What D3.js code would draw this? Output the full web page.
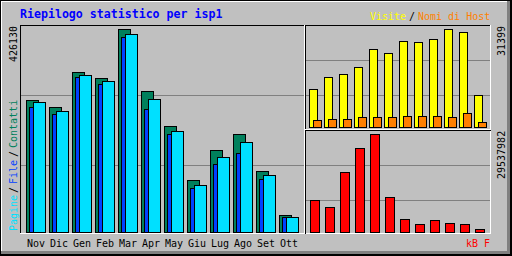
<!DOCTYPE html>
<html>
<head>
<meta charset="utf-8">
<script src="https://cdn.jsdelivr.net/npm/d3@7"></script>
<style>
  html, body { margin: 0; padding: 0; background: #C0C0C0; }
  svg { display: block; }
  text { font-family: "DejaVu Sans Mono", monospace; font-size: 10px; }
</style>
</head>
<body>
<svg id="chart" width="512" height="256"></svg>
<script>
const months = ['Nov', 'Dic', 'Gen', 'Feb', 'Mar', 'Apr', 'May', 'Giu', 'Lug', 'Ago', 'Set', 'Ott'];
const hits   = [277090, 261760, 335870, 323270, 426130, 295980, 222510, 109160, 172130, 205720, 128050, 35690];
const files  = [262400, 247070, 325370, 310680, 409340, 258200, 205720, 92360, 142740, 165830, 111250, 31490];
const pages  = [272260, 254000, 329570, 316970, 415630, 279190, 212010, 98030, 157440, 188920, 119650, 31490];
const visits = [12079, 15924, 16885, 19128, 24895, 23613, 27458, 27138, 28099, 31399, 30342, 10157];
const sites  = [2243, 2563, 2563, 3204, 3204, 3204, 3524, 3524, 3524, 3204, 4486, 1602];
const kbytes = [9554000, 7444800, 17994000, 25228000, 29537982, 10458900, 3827900, 2320800, 3526500, 2622200, 2320800, 813800];

const grey = '#C0C0C0', dkgrey = '#808080';
const c_hits = '#00805C', c_files = '#0040FF', c_pages = '#00E0FF';
const c_visits = '#FFFF00', c_sites = '#FF8000', c_kbytes = '#FF0000';

const svg = d3.select('#chart');

// frame and shadow
svg.append('rect').attr('width', 512).attr('height', 256).attr('fill', grey);
const hline = (x1, x2, y, c) => svg.append('line').attr('x1', x1).attr('x2', x2)
    .attr('y1', y + 0.5).attr('y2', y + 0.5).attr('stroke', c);
const vline = (x, y1, y2, c) => svg.append('line').attr('x1', x + 0.5).attr('x2', x + 0.5)
    .attr('y1', y1).attr('y2', y2).attr('stroke', c);

hline(1, 510, 1, '#fff');
vline(1, 1, 254, '#fff');
svg.append('rect').attr('x', 507).attr('y', 1).attr('width', 3).attr('height', 253).attr('fill', dkgrey);
svg.append('rect').attr('x', 1).attr('y', 251).attr('width', 509).attr('height', 3).attr('fill', dkgrey);
svg.append('rect').attr('x', 510).attr('y', 0).attr('width', 2).attr('height', 256).attr('fill', '#000');
svg.append('rect').attr('x', 0).attr('y', 254).attr('width', 512).attr('height', 2).attr('fill', '#000');
hline(0, 512, 0, '#000');
vline(0, 0, 256, '#000');

// title
svg.append('text').attr('x', 20).attr('y', 18)
    .style('font-size', '11.6px').style('font-weight', 'bold')
    .attr('fill', '#0000FF').text('Riepilogo statistico per isp1');

// grid lines
[95, 165].forEach(y => hline(21, 304, y, dkgrey));
[60, 95].forEach(y => hline(306, 490, y, dkgrey));
[165, 200].forEach(y => hline(306, 490, y, dkgrey));

// sunken frame
hline(20, 491, 25, '#000');
vline(20, 25, 234, '#000');
hline(20, 491, 233, '#fff');
vline(490, 25, 234, '#fff');
vline(304, 25, 234, '#fff');
vline(305, 25, 234, '#000');
hline(305, 491, 129, '#fff');
hline(305, 491, 130, '#000');

// left chart: hits / files / pages
const xm = d3.scaleLinear().domain([0, 11]).range([26, 26 + 11 * 23]);
const maxL = d3.max([...hits, ...files, ...pages]);
const yL = d3.scaleLinear().domain([0, maxL]).range([232, 29]);

const bars = (data, xs, off, w, ys, base, color) => {
    svg.append('g').selectAll('rect')
        .data(data)
        .join('rect')
        .attr('x', (d, i) => Math.round(xs(i)) + off + 0.5)
        .attr('y', d => Math.round(ys(d)) + 0.5)
        .attr('width', w)
        .attr('height', d => base - Math.round(ys(d)))
        .attr('fill', color)
        .attr('stroke', '#000')
        .attr('stroke-width', 1);
};
bars(hits, xm, 0, 12, yL, 232, c_hits);
bars(files, xm, 3, 12, yL, 232, c_files);
bars(pages, xm, 7, 12, yL, 232, c_pages);

// right top: visits / sites
const xr = d3.scaleLinear().domain([0, 11]).range([309, 309 + 11 * 15]);
const maxV = d3.max([...visits, ...sites]);
const yV = d3.scaleLinear().domain([0, maxV]).range([127, 29]);
bars(visits, xr, 0, 8, yV, 127, c_visits);
bars(sites, xr, 4, 8, yV, 127, c_sites);

// right bottom: kbytes
const maxK = d3.max(kbytes);
const yK = d3.scaleLinear().domain([0, maxK]).range([232, 134]);
bars(kbytes, xr, 1, 9, yK, 232, c_kbytes);

// month labels
svg.append('g').selectAll('text')
    .data(months)
    .join('text')
    .attr('x', (d, i) => xm(i) + 1)
    .attr('y', 247)
    .attr('fill', '#000')
    .text(d => d);

// top right legend
const leg = svg.append('g');
leg.append('text').attr('x', 370).attr('y', 20).attr('fill', c_visits).text('Visite');
leg.append('text').attr('x', 409).attr('y', 20).attr('fill', '#000').text('/');
leg.append('text').attr('x', 418).attr('y', 20).attr('fill', c_sites).text('Nomi di Host');

// bottom right legend
svg.append('text').attr('x', 466).attr('y', 247).attr('fill', c_kbytes).text('kB F');

// rotated labels
const up = (x, y, txt, color) => svg.append('text')
    .attr('transform', `translate(${x},${y}) rotate(-90)`)
    .attr('fill', color).text(txt);

up(16.5, 26 + String(maxL).length * 6, String(maxL), '#000');
up(504.5, 26 + String(maxV).length * 6, String(maxV), '#000');
up(504.5, 131 + String(maxK).length * 6, String(maxK), '#000');

up(16.5, 231, 'Pagine', c_pages);
up(16.5, 193, '/', '#000');
up(16.5, 184, 'File', c_files);
up(16.5, 157, '/', '#000');
up(16.5, 148, 'Contatti', c_hits);
</script>
</body>
</html>
